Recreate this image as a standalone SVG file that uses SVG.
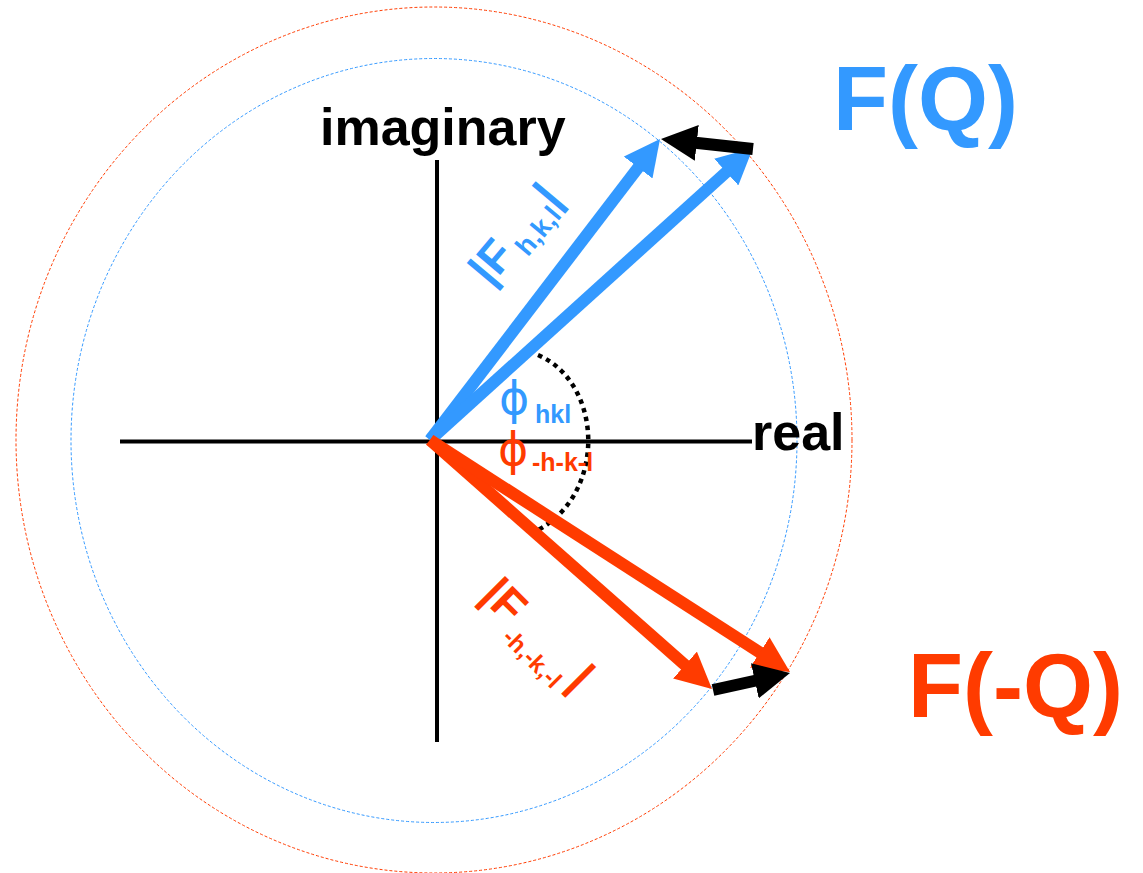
<svg xmlns="http://www.w3.org/2000/svg" width="1143" height="873" viewBox="0 0 1143 873">
<style>
.t{font-family:"Liberation Sans",Arial,Helvetica,sans-serif;font-weight:bold}
.phi{font-family:"DejaVu Sans","Liberation Sans",sans-serif;font-weight:normal}
.blue{fill:#3399ff}
.red{fill:#ff3b00}
.ax{stroke:#000;stroke-width:4;fill:none}
.vb{stroke:#3399ff;stroke-width:12;fill:none}
.vr{stroke:#ff3b00;stroke-width:12;fill:none}
.vk{stroke:#000;stroke-width:12;fill:none}
</style>
<defs>
<marker id="hb" markerUnits="userSpaceOnUse" markerWidth="36" markerHeight="36" refX="6" refY="18" orient="auto"><path d="M0,0 L36,18 L0,36 z" fill="#3399ff"/></marker>
<marker id="hr" markerUnits="userSpaceOnUse" markerWidth="36" markerHeight="36" refX="6" refY="18" orient="auto"><path d="M0,0 L36,18 L0,36 z" fill="#ff3b00"/></marker>
<marker id="hk" markerUnits="userSpaceOnUse" markerWidth="36" markerHeight="36" refX="6" refY="18" orient="auto"><path d="M0,0 L36,18 L0,36 z" fill="#000"/></marker>
</defs>
<rect width="1143" height="873" fill="#fff"/>
<g id="circles">
<ellipse id="circle-red" cx="434" cy="440" rx="418" ry="433" fill="none" stroke="#ff3b00" stroke-width="1" stroke-dasharray="3 2"/>
<ellipse id="circle-blue" cx="434" cy="440.5" rx="363" ry="382" fill="none" stroke="#3399ff" stroke-width="1" stroke-dasharray="3 2"/>
</g>
<g id="axes">
<line class="ax" x1="120" y1="441.5" x2="752" y2="441.5"/>
<line class="ax" x1="437" y1="160" x2="437" y2="742"/>
<text class="t" x="320" y="145" font-size="52" fill="#000">imaginary</text>
<text class="t" x="752" y="450" font-size="52" fill="#000">real</text>
</g>
<g id="phase-arc">
<path d="M538,355 C603,383 607,493 538,530" fill="none" stroke="#000" stroke-width="4.5" stroke-dasharray="4.5 4.5"/>
</g>
<g id="connectors">
<line class="vb" x1="430" y1="440" x2="641.8" y2="162.8" marker-end="url(#hb)"/>
<line class="vb" x1="430" y1="440" x2="730.7" y2="168.1" marker-end="url(#hb)"/>
<line class="vr" x1="430" y1="440" x2="689.5" y2="669.1" marker-end="url(#hr)"/>
<line class="vr" x1="430" y1="440" x2="764.8" y2="655.7" marker-end="url(#hr)"/>
<line class="vk" x1="753" y1="149" x2="690.8" y2="142.2" marker-end="url(#hk)"/>
<line class="vk" x1="713" y1="690" x2="760.7" y2="679.5" marker-end="url(#hk)"/>
</g>
<g id="label-FQ">
<text class="t blue" x="833" y="130" font-size="90">F(Q)</text>
</g>
<g id="label-FmQ">
<text class="t red" x="908" y="717" font-size="90">F(-Q)</text>
</g>
<g id="label-Fhkl">
<text class="t blue" transform="translate(490,287) rotate(-50)"><tspan font-size="46">|F</tspan><tspan font-size="27" dx="6" dy="10">h,k,l</tspan><tspan font-size="46" dy="-10">|</tspan></text>
</g>
<g id="label-Fmhkl">
<text class="t red" transform="translate(479,597) rotate(45)"><tspan font-size="46">|F</tspan><tspan font-size="24" dx="4" dy="14">-h,-k,-l</tspan><tspan font-size="46" dx="6" dy="-14">|</tspan></text>
</g>
<g id="label-phi-hkl">
<text class="phi blue" x="499" y="414" font-size="46">ϕ</text>
<text class="t blue" x="535" y="423" font-size="25">hkl</text>
</g>
<g id="label-phi-mhkl">
<text class="phi red" x="498" y="465" font-size="46">ϕ</text>
<text class="t red" x="532" y="471" font-size="25">-h-k-l</text>
</g>
</svg>
